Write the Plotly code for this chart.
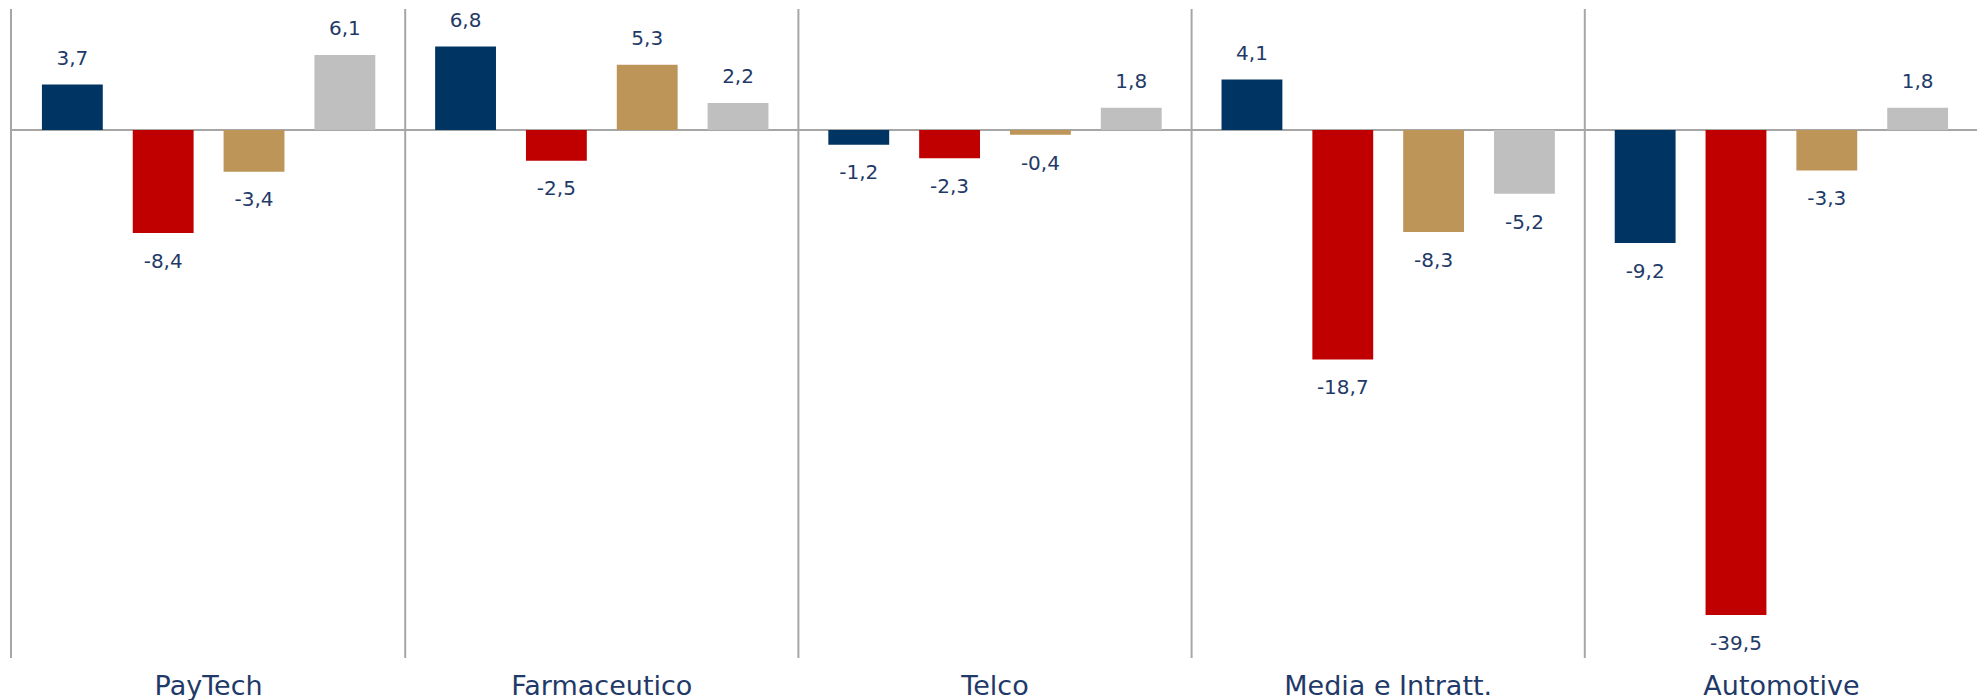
import plotly.graph_objects as go

categories = ["PayTech", "Farmaceutico", "Telco", "Media e Intratt.", "Automotive"]
series_names = ["Serie 1", "Serie 2", "Serie 3", "Serie 4"]
serie_1 = [3.7, 6.8, -1.2, 4.1, -9.2]
serie_2 = [-8.4, -2.5, -2.3, -18.7, -39.5]
serie_3 = [-3.4, 5.3, -0.4, -8.3, -3.3]
serie_4 = [6.1, 2.2, 1.8, -5.2, 1.8]
colors = ["#003462", "#C00000", "#BE9558", "#BFBFBF"]

label_color = "#1F3A68"
font_family = "'DejaVu Sans', sans-serif"
line_gray = "#A6A6A6"

fig = go.Figure()
all_series = [serie_1, serie_2, serie_3, serie_4]
for name, vals, col in zip(series_names, all_series, colors):
    fig.add_trace(go.Bar(
        x=categories, y=vals, name=name,
        marker=dict(color=col, line=dict(width=0)),
    ))
for name, vals in zip(series_names, all_series):
    fig.add_trace(go.Scatter(
        x=categories, y=vals, name=name, mode="markers+text",
        marker=dict(size=[22 if v >= 0 else 30 for v in vals], opacity=0),
        text=[f"{v:.1f}".replace(".", ",") for v in vals],
        textposition=["top center" if v >= 0 else "bottom center" for v in vals],
        textfont=dict(size=20, color=label_color, family=font_family),
        cliponaxis=False, hoverinfo="skip", showlegend=False,
    ))

# separator lines between categories
for i in range(1, len(categories)):
    fig.add_shape(type="line", xref="x", yref="paper",
                  x0=i - 0.5, x1=i - 0.5, y0=0, y1=1,
                  line=dict(color=line_gray, width=2), layer="below")

fig.update_layout(
    width=1977, height=692,
    margin=dict(l=4, r=7, t=1, b=42, autoexpand=False),
    paper_bgcolor="white", plot_bgcolor="white",
    barmode="group", bargap=0.076, bargroupgap=0.33,
    scattermode="group", scattergap=0.076,
    showlegend=False,
    font=dict(family=font_family, color=label_color),
    xaxis=dict(showgrid=False, showline=False, zeroline=False, automargin=False,
               ticks="outside", ticklen=4, tickcolor="rgba(0,0,0,0)",
               tickfont=dict(size=27, color=label_color, family=font_family),
               range=[-0.5, 4.5]),
    yaxis=dict(range=[-43, 9.85], showgrid=False, showticklabels=False, automargin=False,
               zeroline=True, zerolinecolor=line_gray, zerolinewidth=2,
               showline=True, mirror=True, linecolor=line_gray, linewidth=2),
)

fig.write_html("out.html")
